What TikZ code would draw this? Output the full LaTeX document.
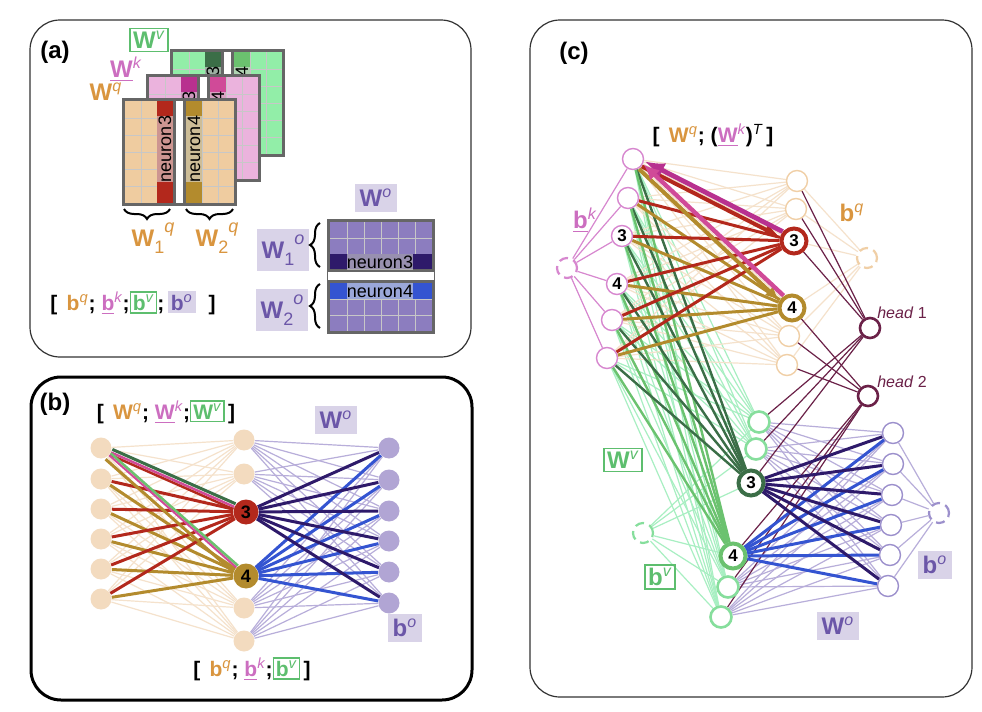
\documentclass[tikz,border=0pt]{standalone}
\usepackage{fontspec}
\setmainfont{Liberation Sans}
\usetikzlibrary{arrows.meta,decorations.pathreplacing,backgrounds}

\definecolor{peach}{HTML}{F3DBBF}
\definecolor{peachcell}{HTML}{EFCCA0}
\definecolor{peachline}{HTML}{F5E2CC}
\definecolor{peachdraw}{HTML}{F0CFA6}
\definecolor{qtext}{HTML}{D9953F}
\definecolor{pinkcell}{HTML}{EBB3DD}
\definecolor{ktext}{HTML}{CC6EC0}
\definecolor{kline}{HTML}{D787CF}
\definecolor{magentaa}{HTML}{B8308F}
\definecolor{magentab}{HTML}{D04A98}
\definecolor{greencell}{HTML}{92EEA8}
\definecolor{vtext}{HTML}{5DBE6E}
\definecolor{vlight}{HTML}{A8EFC2}
\definecolor{vnode}{HTML}{86DE9C}
\definecolor{darkgreen}{HTML}{3B6E47}
\definecolor{midgreen}{HTML}{6BC26F}
\definecolor{redn}{HTML}{B3281C}
\definecolor{goldn}{HTML}{B38B2D}
\definecolor{purplecell}{HTML}{8C7DBF}
\definecolor{darkpurple}{HTML}{2E1A6A}
\definecolor{bluen}{HTML}{3454D1}
\definecolor{obox}{HTML}{D9D3E8}
\definecolor{otext}{HTML}{6B56A8}
\definecolor{oline}{HTML}{B8AEDA}
\definecolor{onode}{HTML}{B1A5D4}
\definecolor{onodedraw}{HTML}{9C90CC}
\definecolor{maroon}{HTML}{6B2148}
\definecolor{framegray}{HTML}{666666}

\newcommand{\biglbl}{\fontsize{12}{14}\selectfont}
\newcommand{\brlbl}{\fontsize{10.5}{12}\selectfont}
\newcommand{\bsym}[2]{\textbf{#1}\textsuperscript{\itshape #2}}
\newcommand{\ubsym}[2]{\underline{\textbf{#1}}\textsuperscript{\itshape #2}}
\newcommand{\bsubsup}[3]{\textbf{#1}\raisebox{-0.6ex}{\fontsize{9}{9}\selectfont #2}\raisebox{1.1ex}{\fontsize{9}{9}\selectfont\itshape #3}}
\newcommand{\vboxed}[1]{{\setlength{\fboxsep}{1pt}\setlength{\fboxrule}{0.6pt}\fcolorbox{vtext}{white}{\color{vtext}#1}}}
\newcommand{\oboxed}[1]{{\setlength{\fboxsep}{1.5pt}\colorbox{obox}{\color{otext}#1}}}

% #1,#2 top left, #3 cells, #4 neuron 3 column, #5 neuron 4 column, #6 name prefix
\newcommand{\qkvmat}[6]{
  \fill[framegray] (#1,#2) rectangle (#1+115,#2+108);
  \fill[white] (#1+54,#2+3) rectangle (#1+61,#2+105);
  \fill[#3] (#1+3,#2+3) rectangle (#1+51,#2+105);
  \fill[#3] (#1+64,#2+3) rectangle (#1+112,#2+105);
  \foreach \gx in {19,35,80,96}
    \draw[gridline] (#1+\gx,#2+3) -- (#1+\gx,#2+105);
  \foreach \gy in {20,37,54,71,88} {
    \draw[gridline] (#1+3,#2+\gy) -- (#1+51,#2+\gy);
    \draw[gridline] (#1+64,#2+\gy) -- (#1+112,#2+\gy);
  }
  \fill[#4] (#1+35,#2+3) rectangle (#1+51,#2+105);
  \fill[#5] (#1+64,#2+3) rectangle (#1+80,#2+105);
  \node[neurontag, rotate=90, minimum width=33pt, minimum height=8pt] (#6n3) at (#1+43,#2+51) {neuron3};
  \node[neurontag, rotate=90, minimum width=33pt, minimum height=8pt] (#6n4) at (#1+72,#2+51) {neuron4};
}

\tikzset{
  panel/.style={rounded corners=15pt, draw=black!80, line width=0.6pt},
  gridline/.style={draw=black!22, line width=0.4pt},
  neurontag/.style={fill=white!75!gray, fill opacity=0.6, text opacity=1, inner sep=0pt, font=\fontsize{9}{9}\selectfont},
  qkvbrace/.style={decorate, decoration={brace, amplitude=5pt}, line width=1pt},
  vlabel/.style={draw=vtext, line width=0.7pt, text=vtext, inner sep=1.5pt, font=\biglbl},
  olabel/.style={fill=obox, text=otext, inner sep=2.5pt, font=\biglbl},
  bnode/.style={circle, inner sep=0pt, minimum size=10.5pt},
  bbig/.style={bnode, minimum size=12.5pt, font=\bfseries\fontsize{9}{9}\selectfont},
  faint/.style={line width=0.6pt},
  heavy/.style={line width=1.5pt},
  cnode/.style={circle, draw, fill=white, inner sep=0pt, minimum size=10.5pt, line width=0.7pt, font=\bfseries\fontsize{8.5}{9}\selectfont},
  cbig/.style={cnode, minimum size=12.5pt, line width=2pt},
  cbias/.style={circle, draw, inner sep=0pt, minimum size=10pt, line width=1.1pt, dash pattern=on 4.5pt off 2.8pt},
  headnode/.style={cnode, draw=maroon, line width=1.3pt, minimum size=10pt},
}

\begin{document}
\begin{tikzpicture}[x=0.5pt, y=-0.5pt]
\useasboundingbox (0,0) rectangle (982,712);
\begin{pgfonlayer}{background}
  \fill[white] (0,0) rectangle (982,712);
\end{pgfonlayer}

% (a)
\draw[panel] (30,20) rectangle (471,357);
\node[font=\biglbl\bfseries] (la) at (55,52) {(a)};
\qkvmat{170}{49}{greencell}{darkgreen}{midgreen}{gv}
\qkvmat{146}{74}{pinkcell}{magentaa}{magentab}{gk}
\qkvmat{122}{98}{peachcell}{redn}{goldn}{gq}
\node[vlabel] (avlbl) at (149,40) {\bsym{W}{v}};
\node[text=ktext, font=\biglbl] (aklbl) at (126,69) {\ubsym{W}{k}};
\node[text=qtext, font=\biglbl] (aqlbl) at (106,92) {\bsym{W}{q}};
\draw[qkvbrace] (170,209) -- (124,209);
\draw[qkvbrace] (233,209) -- (186,209);
\node[text=qtext, font=\biglbl] (aq1) at (153,238) {\bsubsup{W}{1}{q}};
\node[text=qtext, font=\biglbl] (aq2) at (217,238) {\bsubsup{W}{2}{q}};

\fill[framegray] (327,219) rectangle (435,334);
\fill[purplecell] (330,222) rectangle (432,269);
\fill[purplecell] (330,283) rectangle (432,331);
\fill[white] (328,272) rectangle (434,280);
\foreach \gx in {347,364,381,398,415} {
  \draw[gridline] (\gx,222) -- (\gx,269);
  \draw[gridline] (\gx,283) -- (\gx,331);
}
\foreach \gy in {238,254,299,315}
  \draw[gridline] (330,\gy) -- (432,\gy);
\fill[darkpurple] (330,254) rectangle (432,269);
\fill[bluen] (330,283) rectangle (432,299);
\node[neurontag, minimum width=32.5pt, minimum height=8pt] (ow3) at (380,262) {neuron3};
\node[neurontag, minimum width=32.5pt, minimum height=8pt] (ow4) at (380,291) {neuron4};
\node[olabel] (aolbl) at (376,198) {\bsym{W}{o}};
\node[olabel] (ao1) at (283,250) {\bsubsup{W}{1}{o}};
\node[olabel] (ao2) at (282,310) {\bsubsup{W}{2}{o}};
\draw[qkvbrace] (320,267) -- (320,223);
\draw[qkvbrace] (320,328) -- (320,284);
\node[font=\brlbl] (abias) at (133,303) {\textbf{[}\, {\color{qtext}\bsym{b}{q}}\textbf{;} {\color{ktext}\ubsym{b}{k}}\textbf{;}\vboxed{\bsym{b}{v}}\textbf{;}\,\oboxed{\bsym{b}{o}}\,\, \textbf{]}};

% (b)
\draw[panel, draw=black, line width=1.5pt] (31,377) rectangle (472,700);
\node[font=\biglbl\bfseries] (lb) at (55,404) {(b)};
\foreach \n/\y in {1/448,2/479,3/509,4/539,5/569,6/599}
  \node[bnode, fill=peach] (bi\n) at (101,\y) {};
\node[bnode, fill=peach] (bh1) at (244,440) {};
\node[bnode, fill=peach] (bh2) at (244,474) {};
\node[bbig, fill=redn] (bh3) at (246,512) {3};
\node[bbig, fill=goldn] (bh4) at (246,576) {4};
\node[bnode, fill=peach] (bh5) at (244,608) {};
\node[bnode, fill=peach] (bh6) at (244,641) {};
\foreach \n/\y in {1/448,2/480,3/511,4/541,5/572,6/603}
  \node[bnode, fill=onode] (bo\n) at (389,\y) {};
\begin{pgfonlayer}{background}
  \foreach \i in {1,...,6}
    \foreach \j in {1,...,6} {
      \draw[peachline, faint] (bi\i) -- (bh\j);
      \draw[oline, faint] (bh\i) -- (bo\j);
    }
  \foreach \i in {2,...,6} {
    \draw[redn, heavy] (bi\i) -- (bh3);
    \draw[goldn, heavy] (bi\i) -- (bh4);
  }
  \draw[darkgreen, line width=1.5pt, transform canvas={xshift=0.7pt, yshift=1.5pt}] (bi1) -- (bh3);
  \draw[magentab, line width=1.2pt] (bi1) -- (bh3);
  \draw[redn, line width=1.2pt, transform canvas={xshift=-0.5pt, yshift=-1.2pt}] (bi1) -- (bh3);
  \draw[goldn, heavy, transform canvas={xshift=-1.8pt, yshift=-2pt}] (bi1) -- (bh4);
  \draw[midgreen, line width=1.3pt, transform canvas={xshift=0.8pt, yshift=0.9pt}] (bi1) -- (bh4);
  \draw[magentab, line width=1pt] (bi1) -- (bh4);
  \foreach \j in {1,...,6} {
    \draw[darkpurple, heavy] (bh3) -- (bo\j);
    \draw[bluen, heavy] (bh4) -- (bo\j);
  }
\end{pgfonlayer}
\node[font=\brlbl] (btop) at (166,412) {\textbf{[}\, {\color{qtext}\bsym{W}{q}}\textbf{;} {\color{ktext}\ubsym{W}{k}}\textbf{;}\vboxed{\bsym{W}{v}}\,\textbf{]}};
\node[olabel] (bolbl) at (336,420) {\bsym{W}{o}};
\node[olabel] (bbolbl) at (405,628) {\bsym{b}{o}};
\node[font=\brlbl] (bbot) at (252,669) {\textbf{[}\, {\color{qtext}\bsym{b}{q}}\textbf{;} {\color{ktext}\ubsym{b}{k}}\textbf{;}\vboxed{\bsym{b}{v}}\,\textbf{]}};

% (c)
\draw[panel] (530,20) rectangle (972,697);
\node[font=\biglbl\bfseries] (lc) at (574,53) {(c)};
\foreach \n/\x/\y in {1/633/159,2/628/198,5/612/320,6/607/358}
  \node[cnode, draw=kline] (ck\n) at (\x,\y) {};
\node[cnode, draw=kline] (ck3) at (622,236) {3};
\node[cnode, draw=kline] (ck4) at (617,284) {4};
\node[cbias, draw=kline] (cbk) at (567,268) {};
\foreach \n/\x/\y in {1/797/181,2/796/209,5/789/336,6/787/365}
  \node[cnode, draw=peachdraw] (cq\n) at (\x,\y) {};
\node[cbig, draw=redn] (cq3) at (794,241) {3};
\node[cbig, draw=goldn] (cq4) at (792,308) {4};
\node[cbias, draw=peachdraw] (cbq) at (867,258) {};
\node[headnode] (ch1) at (870,328) {};
\node[headnode] (ch2) at (868,396) {};
\foreach \n/\x/\y in {1/759/422,2/756/449,5/728/587,6/721/617}
  \node[cnode, draw=vnode, line width=1.3pt] (cv\n) at (\x,\y) {};
\node[cbig, draw=darkgreen] (cv3) at (751,483) {3};
\node[cbig, draw=midgreen] (cv4) at (733,556) {4};
\node[cbias, draw=vnode] (cbv) at (643,533) {};
\foreach \n/\x/\y in {1/893/433,2/893/464,3/892/495,4/891/525,5/890/555,6/888/586}
  \node[cnode, draw=onodedraw] (co\n) at (\x,\y) {};
\node[cbias, draw=onodedraw] (cbo) at (939,513) {};
\begin{pgfonlayer}{background}
  \foreach \i in {1,...,6} {
    \draw[peachline, faint] (cbq) -- (cq\i);
    \draw[kline, faint] (cbk) -- (ck\i);
    \draw[vlight, faint] (cbv) -- (cv\i);
    \draw[oline, faint] (cbo) -- (co\i);
    \foreach \j in {1,...,6} {
      \draw[peachline, faint] (ck\i) -- (cq\j);
      \draw[vlight, faint] (ck\i) -- (cv\j);
      \draw[oline, faint] (cv\i) -- (co\j);
    }
  }
  \foreach \i in {1,2,3} {
    \draw[maroon, line width=0.6pt] (cq\i) -- (ch1);
    \draw[maroon, line width=0.6pt] (ch1) -- (cv\i);
  }
  \foreach \i in {4,5,6} {
    \draw[maroon, line width=0.6pt] (cq\i) -- (ch2);
    \draw[maroon, line width=0.6pt] (ch2) -- (cv\i);
  }
  \foreach \i in {1,...,6} {
    \draw[darkgreen, line width=1.2pt] (ck\i) -- (cv3);
    \draw[midgreen, line width=1.2pt] (ck\i) -- (cv4);
  }
  \foreach \i in {2,...,6} {
    \draw[redn, heavy] (ck\i) -- (cq3);
    \draw[goldn, heavy] (ck\i) -- (cq4);
  }
  \foreach \j in {1,...,6} {
    \draw[darkpurple, heavy] (cv3) -- (co\j);
    \draw[bluen, heavy] (cv4) -- (co\j);
  }
  \draw[redn, line width=2pt, -{Latex[length=8pt,width=6pt]}, transform canvas={xshift=-0.6pt, yshift=-1.2pt}] (ck1) -- (cq3);
  \draw[goldn, line width=2pt, -{Latex[length=7pt,width=6pt]}, transform canvas={xshift=-1.1pt, yshift=-1.2pt}] (ck1) -- (cq4);
  \draw[magentaa, line width=2.4pt, -{Latex[length=10pt,width=8pt]}, transform canvas={xshift=0.8pt, yshift=1.4pt}] (cq3) -- (ck1);
  \draw[magentab, line width=2.2pt, -{Latex[length=8pt,width=7pt]}, transform canvas={xshift=1.1pt, yshift=1.2pt}] (cq4) -- (ck1);
\end{pgfonlayer}
\node[font=\brlbl] (ctop) at (713,135) {\textbf{[}\, {\color{qtext}\bsym{W}{q}}\textbf{; (}{\color{ktext}\ubsym{W}{k}}\textbf{)}\textsuperscript{\itshape T}\,\textbf{]}};
\node[text=ktext, font=\biglbl] (cbklbl) at (585,220) {\ubsym{b}{k}};
\node[text=qtext, font=\biglbl] (cbqlbl) at (852,213) {\bsym{b}{q}};
\node[text=maroon, font=\fontsize{8}{9}\selectfont] (ch1lbl) at (902,313) {\textit{head} 1};
\node[text=maroon, font=\fontsize{8}{9}\selectfont] (ch2lbl) at (902,382) {\textit{head} 2};
\node[vlabel] (cvlbl) at (623,460) {\bsym{W}{v}};
\node[vlabel] (cbvlbl) at (660,577) {\bsym{b}{v}};
\node[olabel] (cbolbl) at (935,565) {\bsym{b}{o}};
\node[olabel] (colbl) at (838,626) {\bsym{W}{o}};
\end{tikzpicture}
\end{document}
